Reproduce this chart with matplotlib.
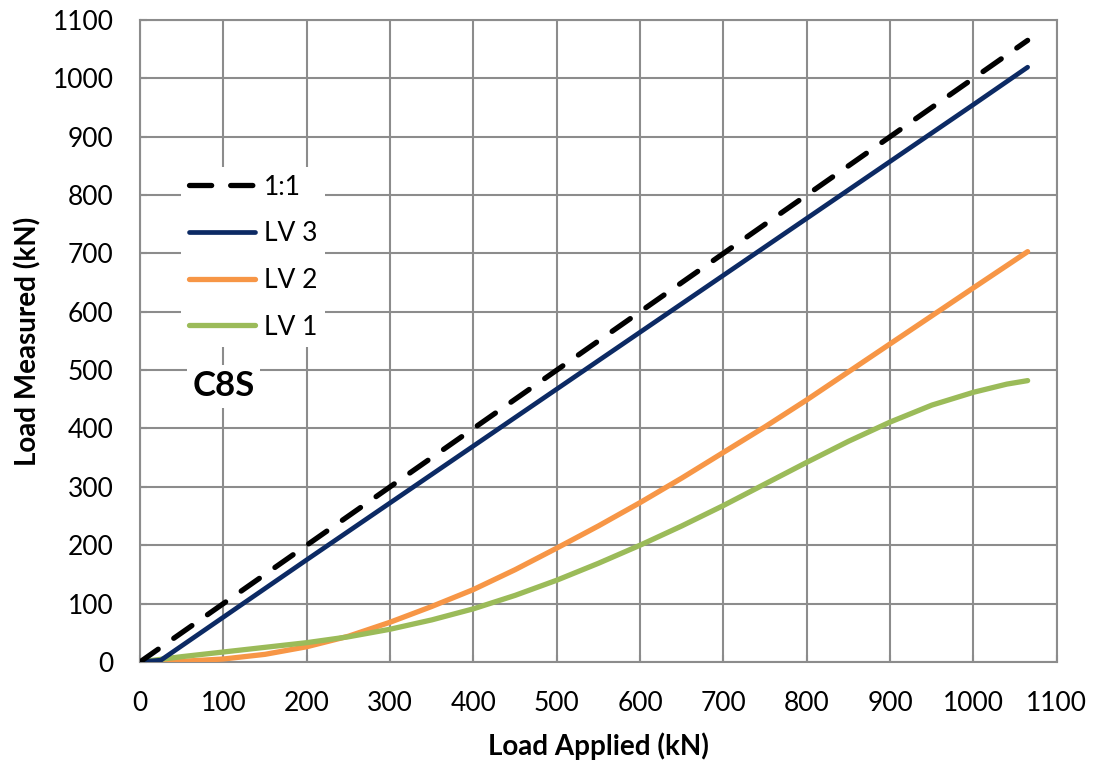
import matplotlib.pyplot as plt
import numpy as np

plt.rcParams['font.family'] = ['Lato', 'DejaVu Sans']

# load applied (kN) vs load measured (kN)
x_ref = [0, 1065]
y_ref = [0, 1065]

x_lv3 = [0, 25, 200, 400, 600, 800, 1000, 1065]
y_lv3 = [0, 3, 175, 370, 565, 760, 955, 1019]

x_lv2 = [0, 50, 100, 150, 200, 250, 300, 350, 400, 450, 500, 550, 600,
         650, 700, 750, 800, 850, 900, 950, 1000, 1065]
y_lv2 = [0, 1, 5, 13, 26, 44, 68, 95, 124, 158, 195, 233, 273,
         315, 359, 403, 449, 497, 545, 593, 641, 703]

x_lv1 = [0, 50, 100, 150, 200, 250, 300, 350, 400, 450, 500, 550, 600,
         650, 700, 750, 800, 850, 900, 950, 1000, 1040, 1065]
y_lv1 = [0, 9, 17, 25, 33, 43, 56, 72, 91, 114, 140, 169, 200,
         233, 268, 305, 342, 378, 411, 440, 462, 476, 482]

fig = plt.figure(figsize=(10.94, 7.67), dpi=100)
ax = fig.add_axes([0.128, 0.137, 0.838, 0.837])

ax.plot(x_ref, y_ref, color='black', lw=3.8, dashes=(4.2, 3.6),
        dash_capstyle='round', label='1:1', zorder=5)
ax.plot(x_lv3, y_lv3, color='#0c2a64', lw=3.4, label='LV 3',
        solid_capstyle='round', zorder=4)
ax.plot(x_lv2, y_lv2, color='#f79646', lw=3.8, label='LV 2',
        solid_capstyle='round', solid_joinstyle='round', zorder=3)
ax.plot(x_lv1, y_lv1, color='#9bbb59', lw=3.8, label='LV 1',
        solid_capstyle='round', solid_joinstyle='round', zorder=3)

ax.set_xlim(0, 1100)
ax.set_ylim(0, 1100)
ax.set_xticks(np.arange(0, 1101, 100))
ax.set_yticks(np.arange(0, 1101, 100))
ax.grid(True, color='#8c8c8c', lw=1.5)
ax.set_axisbelow(True)
for s in ax.spines.values():
    s.set_color('#8c8c8c')
    s.set_linewidth(1.5)
ax.tick_params(direction='in', length=5, width=1.5, color='#8c8c8c',
               labelsize=19)
ax.tick_params(axis='y', pad=19)
ax.tick_params(axis='x', pad=21)

ax.set_xlabel('Load Applied (kN)', fontsize=20, fontweight='bold', labelpad=12)
ax.set_ylabel('Load Measured (kN)', fontsize=20, fontweight='bold', labelpad=8)

leg = ax.legend(loc='upper left', bbox_to_anchor=(0.03, 0.792), fontsize=19,
                frameon=True, facecolor='white', edgecolor='none', framealpha=1,
                handlelength=2.5, handletextpad=0.35, labelspacing=0.82,
                borderpad=0.3)

ax.text(100, 472, 'C8S', fontsize=25, fontweight='bold', ha='center', va='center',
        bbox=dict(facecolor='white', edgecolor='none', pad=4))

fig.savefig('out.png', dpi=100)
